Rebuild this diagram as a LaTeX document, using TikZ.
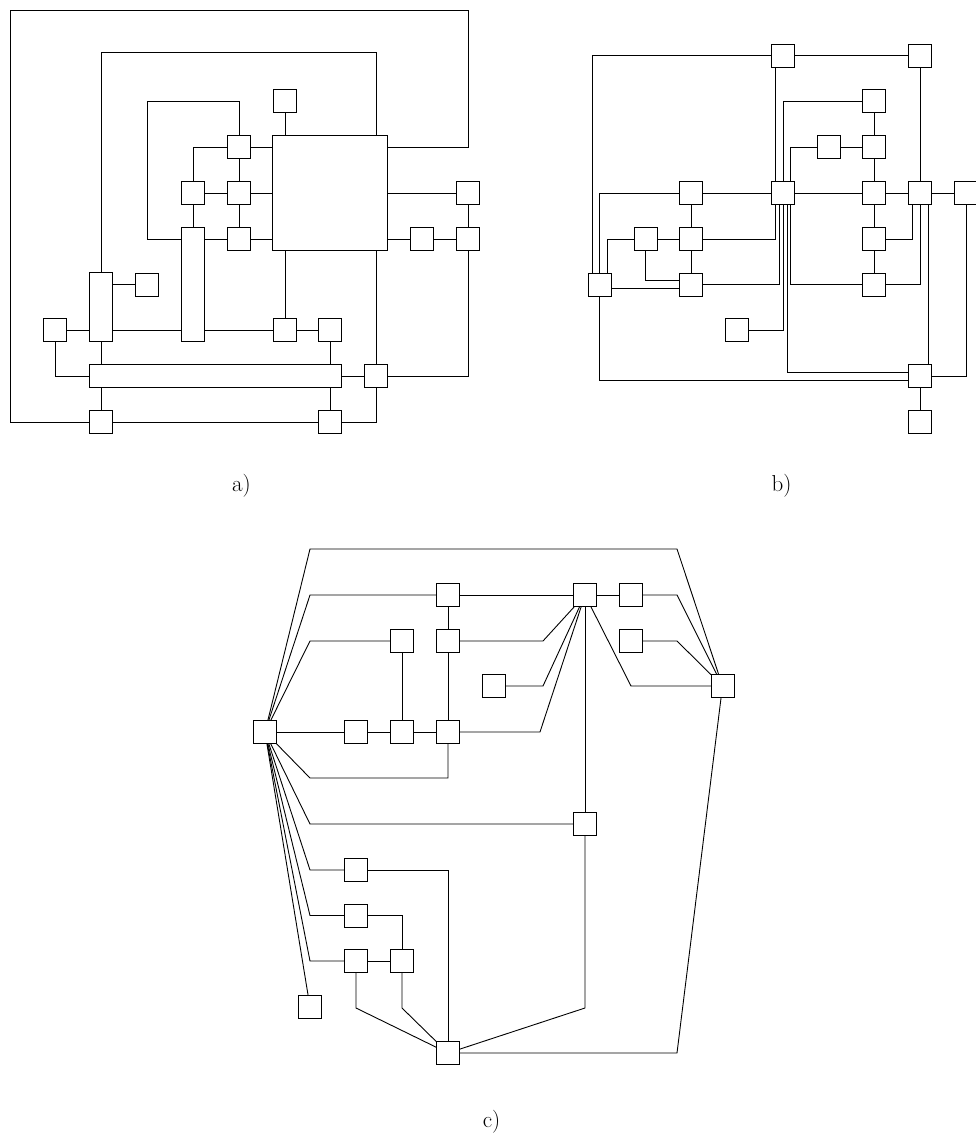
\documentclass[tikz,border=0pt]{standalone}
\usetikzlibrary{calc}
\begin{document}
\begin{tikzpicture}[x=1pt,y=-1pt,line width=0.9pt,
  box/.style={draw,fill=white,minimum width=23pt,minimum height=23pt,inner sep=0pt,outer sep=0pt},
  lab/.style={font=\fontsize{23}{28}\selectfont,anchor=base,inner sep=0pt}]
\useasboundingbox (0,0) rectangle (975,1146);
% ---------------- a) ----------------
\node[box,minimum width=114.5pt,minimum height=114.5pt] (B) at (330,193) {};
\node[box] (a1) at (285,101) {};
\node[box] (a2) at (239,147) {};
\node[box] (a3) at (193,193) {};
\node[box] (a4) at (239,193) {};
\node[box] (a5) at (239,239) {};
\node[box,minimum height=114.5pt] (T1) at (193,284.5) {};
\node[box,minimum height=69pt] (T2) at (101,307) {};
\node[box] (a6) at (147,284.5) {};
\node[box] (a7) at (55,330) {};
\node[box] (a8) at (285,330) {};
\node[box] (a9) at (330,330) {};
\node[box,minimum width=252.5pt] (L) at (215.5,376) {};
\node[box] (a10) at (376,376) {};
\node[box] (a11) at (101,422) {};
\node[box] (a12) at (330,422) {};
\node[box] (a13) at (468,193) {};
\node[box] (a14) at (468,239) {};
\node[box] (a15) at (422,239) {};
\draw (a1.south) -- (a1.south |- B.north);
\draw (a2.east) -- (a2 -| B.west);
\draw (a2.north) -- (239,101) -- (147,101) -- (147,239) -- (T1.west |- a5);
\draw (a2.west) -| (a3.north);
\draw (a3) -- (a4);
\draw (a3) -- (T1);
\draw (a4.east) -- (a4 -| B.west);
\draw (a2) -- (a4);
\draw (a4) -- (a5);
\draw (a5.east) -- (a5 -| B.west);
\draw (a5.west) -- (a5 -| T1.east);
\draw (T2.east |- a6) -- (a6.west);
\draw (a7.east) -- (a7 -| T2.west);
\draw (T2.east |- a7) -- (T1.west |- a7);
\draw (T1.east |- a8) -- (a8.west);
\draw (a8.north) -- (a8 |- B.south);
\draw (a8) -- (a9);
\draw (a9.south) -- (a9 |- L.north);
\draw (T2.south) -- (T2.south |- L.north);
\draw (a7.south) |- (L.west);
\draw (L.east) -- (a10.west);
\draw (a10.north) -- (a10 |- B.south);
\draw (a10.south) |- (a12.east);
\draw (a10.east) -| (a14.south);
\draw (L.south -| a11) -- (a11.north);
\draw (L.south -| a12) -- (a12.north);
\draw (a11) -- (a12);
\draw (a11.west) -- (10,422) -- (10,10) -- (468,10) -- (468,147) -- (B.east |- a2);
\draw (T2.north) -- (101,52) -| ([xshift=46pt]B.north);
\draw (B.east |- a13) -- (a13.west);
\draw (a13) -- (a14);
\draw (B.east |- a15) -- (a15.west);
\draw (a15) -- (a14);
\node[lab] (la) at (241.5,491) {a)};
% ---------------- b) ----------------
\node[box] (b1) at (783,55.5) {};
\node[box] (b2) at (920,55.5) {};
\node[box] (b3) at (874,101) {};
\node[box] (b4) at (828.5,147) {};
\node[box] (b5) at (874,147) {};
\node[box] (b6) at (691,193) {};
\node[box] (b7) at (783,193) {};
\node[box] (b8) at (874,193) {};
\node[box] (b9) at (920,193) {};
\node[box] (b10) at (966,193) {};
\node[box] (b11) at (645.7,239) {};
\node[box] (b12) at (691,239) {};
\node[box] (b13) at (874,239) {};
\node[box] (b14) at (599.7,284.5) {};
\node[box] (b15) at (691,284.5) {};
\node[box] (b16) at (874,284.5) {};
\node[box] (b17) at (737,330) {};
\node[box] (b18) at (920,376) {};
\node[box] (b19) at (920,422) {};
\draw (b1.west) -| ([xshift=-7.7pt]b14.north);
\draw (b1) -- (b2);
\draw ([xshift=-8pt]b1.south) -- ([xshift=-8pt]b7.north);
\draw (b2) -- (b9);
\draw (b3.west) -| (b7.north);
\draw (b3) -- (b5);
\draw (b4.west) -| ([xshift=7.5pt]b7.north);
\draw (b4) -- (b5);
\draw (b5) -- (b8);
\draw (b6.west) -| (b14.north);
\draw (b6) -- (b7);
\draw (b6) -- (b12);
\draw (b11.west) -| ([xshift=7.5pt]b14.north);
\draw (b11) -- (b12);
\draw (b11.south) |- ([yshift=4.5pt]b15.west);
\draw (b12.east) -| ([xshift=-8pt]b7.south);
\draw (b12) -- (b15);
\draw ([yshift=-3.5pt]b14.east) -- ([yshift=-3.5pt]b15.west);
\draw (b15.east) -| ([xshift=-4pt]b7.south);
\draw (b17.east) -| (b7.south);
\draw ([xshift=4pt]b7.south) |- ([yshift=4pt]b18.west);
\draw ([xshift=7.5pt]b7.south) |- (b16.west);
\draw (b14.south) |- ([yshift=-4pt]b18.west);
\draw (b7) -- (b8);
\draw (b8) -- (b9);
\draw (b9) -- (b10);
\draw (b8) -- (b13);
\draw (b13) -- (b16);
\draw (b13.east) -| ([xshift=-8pt]b9.south);
\draw (b16.east) -| (b9.south);
\draw ([xshift=8pt]b9.south) -- ([xshift=8pt]b18.north);
\draw (b10.south) |- (b18.east);
\draw (b18) -- (b19);
\node[lab] (lb) at (781.5,491) {b)};
% ---------------- c) ----------------
\node[box] (c1) at (265,732) {};
\node[box] (c2) at (356,732) {};
\node[box] (c3) at (402,732) {};
\node[box] (c4) at (448,732) {};
\node[box] (c5) at (402,641) {};
\node[box] (c6) at (448,641) {};
\node[box] (c7) at (448,595) {};
\node[box] (c8) at (585,595) {};
\node[box] (c9) at (631,595) {};
\node[box] (c10) at (631,641) {};
\node[box] (c11) at (494,686) {};
\node[box] (c12) at (722.5,686) {};
\node[box] (c13) at (585,824) {};
\node[box] (c14) at (356,870) {};
\node[box] (c15) at (356,915.5) {};
\node[box] (c16) at (356,961) {};
\node[box] (c17) at (402,961) {};
\node[box] (c18) at (310,1007) {};
\node[box] (c19) at (448,1053) {};
\draw (c1) -- (310,549) -- (677,549) -- (c12);
\draw (c1) -- (310,595) -- (c7);
\draw (c1) -- (310,641) -- (c5);
\draw (c1) -- (c2);
\draw (c2) -- (c3);
\draw (c3) -- (c4);
\draw (c1) -- (310,778) -| (c4);
\draw (c1) -- (310,824) -- (c13);
\draw (c1) -- (310,870) -- (c14);
\draw (c1) -- (310,915.5) -- (c15);
\draw (c1) -- (310,961) -- (c16);
\draw (c1) -- (c18);
\draw (c3) -- (c5);
\draw (c4) -- (c6);
\draw (c6) -- (c7);
\draw (c4) -- (540,732) -- (c8);
\draw (c6) -- (543,641) -- (c8);
\draw (c11) -- (543,686) -- (c8);
\draw (c7) -- (c8);
\draw (c8) -- (c9);
\draw (c9) -- (677,595) -- (c12);
\draw (c10) -- (677,641) -- (c12);
\draw (c8) -- (631,686) -- (c12);
\draw (c8) -- (c13);
\draw (c13) -- (585,1008) -- (c19);
\draw (c12) -- (677,1053) -- (c19);
\draw (c14) -| (c19);
\draw (c15) -| (c17);
\draw (c16) -- (c17);
\draw (c16) -- (356,1008) -- (c19);
\draw (c17) -- (402,1008) -- (c19);
\node[lab] (lc) at (491.5,1127) {c)};
\end{tikzpicture}
\end{document}
